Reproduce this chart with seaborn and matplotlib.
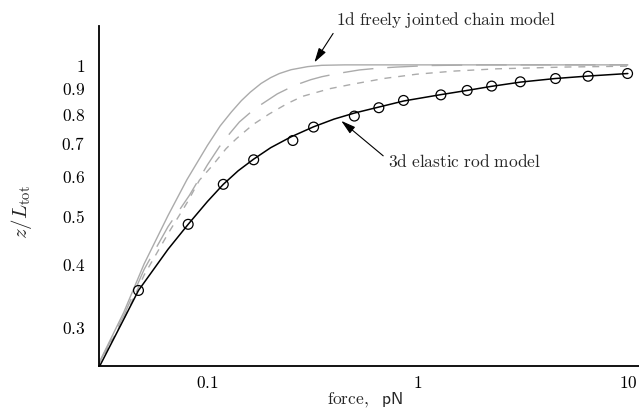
import matplotlib
matplotlib.use("Agg")
import matplotlib.pyplot as plt
import seaborn as sns
import numpy as np
import pandas as pd
from matplotlib.ticker import FixedLocator, FixedFormatter, NullLocator, NullFormatter

# ---- data ----
fjc_force = [0.03, 0.04, 0.05, 0.065, 0.08, 0.1, 0.115, 0.13, 0.145, 0.16, 0.18, 0.2, 0.22, 0.25, 0.3, 0.35, 0.45, 1.0, 3.0, 10.0]
fjc_ext   = [0.25, 0.32, 0.40, 0.50, 0.59, 0.69, 0.755, 0.805, 0.848, 0.882, 0.918, 0.943, 0.961, 0.978, 0.992, 0.998, 1.0, 1.0, 1.0, 1.0]

long_force = [0.03, 0.04, 0.05, 0.065, 0.082, 0.1, 0.114, 0.128, 0.142, 0.16, 0.18, 0.215, 0.245, 0.274, 0.31, 0.35, 0.416, 0.529, 0.65, 0.794, 1.14, 2.0, 5.0, 10.0]
long_ext   = [0.25, 0.315, 0.39, 0.475, 0.548, 0.631, 0.686, 0.73, 0.769, 0.803, 0.833, 0.875, 0.899, 0.917, 0.934, 0.947, 0.961, 0.977, 0.985, 0.990, 0.997, 1.0, 1.0, 1.0]

short_force = [0.03, 0.04, 0.05, 0.065, 0.08, 0.0916, 0.1056, 0.1227, 0.1374, 0.165, 0.197, 0.24, 0.283, 0.381, 0.49, 0.7, 0.99, 1.5, 2.38, 5.0, 10.0]
short_ext   = [0.25, 0.31, 0.38, 0.46, 0.53, 0.588, 0.629, 0.68, 0.712, 0.76, 0.798, 0.837, 0.865, 0.896, 0.915, 0.94, 0.958, 0.972, 0.982, 0.99, 0.994]

rod_force = [0.03, 0.04, 0.047, 0.065, 0.081, 0.1, 0.119, 0.14, 0.166, 0.2, 0.25, 0.32, 0.4, 0.5, 0.65, 0.86, 1.29, 1.72, 2.25, 3.1, 4.5, 6.5, 10.0]
rod_ext   = [0.245, 0.31, 0.354, 0.428, 0.48, 0.533, 0.577, 0.614, 0.648, 0.683, 0.718, 0.752, 0.779, 0.801, 0.823, 0.847, 0.872, 0.889, 0.906, 0.924, 0.939, 0.950, 0.961]

data_force = [0.047, 0.081, 0.119, 0.166, 0.255, 0.32, 0.50, 0.654, 0.857, 1.29, 1.72, 2.25, 3.08, 4.53, 6.47, 9.97]
data_ext   = [0.354, 0.480, 0.577, 0.646, 0.706, 0.751, 0.790, 0.821, 0.849, 0.871, 0.889, 0.907, 0.925, 0.939, 0.949, 0.961]

y_ticks = [0.3, 0.4, 0.5, 0.6, 0.7, 0.8, 0.9, 1.0]
y_tick_labels = ["0.3", "0.4", "0.5", "0.6", "0.7", "0.8", "0.9", "1"]
x_ticks = [0.1, 1.0, 10.0]
x_tick_labels = ["0.1", "1", "10"]

# ---- styling ----
sns.set_theme(style="white")
plt.rcParams["mathtext.fontset"] = "cm"
plt.rcParams["font.family"] = ["DejaVu Serif"]

fig = plt.figure(figsize=(6.39, 4.10), dpi=100)
ax = fig.add_axes([99 / 639, 43 / 410, 540 / 639, 340 / 410])
ax.set_xscale("log")
ax.set_yscale("log")

gray = "#ababab"
sns.lineplot(x=fjc_force, y=fjc_ext, ax=ax, color=gray, linewidth=1.0,
             estimator=None, sort=False)
sns.lineplot(x=long_force, y=long_ext, ax=ax, color=gray, linewidth=1.0,
             linestyle=(0, (22, 10)), estimator=None, sort=False)
sns.lineplot(x=short_force, y=short_ext, ax=ax, color=gray, linewidth=1.0,
             linestyle=(0, (5, 5)), estimator=None, sort=False)
sns.lineplot(x=rod_force, y=rod_ext, ax=ax, color="black", linewidth=1.1,
             estimator=None, sort=False)
sns.scatterplot(x=data_force, y=data_ext, ax=ax, marker="o", s=50,
                facecolor="none", edgecolor="black", linewidth=0.9, zorder=5)

ax.set_xlim(0.0305, 11.3)
ax.set_ylim(0.25, 1.196)

for s in ["top", "right"]:
    ax.spines[s].set_visible(False)
for s in ["left", "bottom"]:
    ax.spines[s].set_color("black")
    ax.spines[s].set_linewidth(1.3)

ax.xaxis.set_major_locator(FixedLocator(x_ticks))
ax.xaxis.set_major_formatter(FixedFormatter(["$%s$" % t for t in x_tick_labels]))
minor_x = [m * d for d in (0.01, 0.1, 1.0) for m in range(2, 10) if 0.0305 < m * d < 11.3]
ax.xaxis.set_minor_locator(FixedLocator(minor_x))
ax.xaxis.set_minor_formatter(NullFormatter())
ax.yaxis.set_major_locator(FixedLocator(y_ticks))
ax.yaxis.set_major_formatter(FixedFormatter(["$%s$" % t for t in y_tick_labels]))
ax.yaxis.set_minor_locator(NullLocator())

ax.tick_params(axis="both", which="major", direction="in", length=6, width=1.1,
               color="black", labelsize=12.5, labelcolor="black")
ax.tick_params(axis="x", which="major", pad=6)
ax.tick_params(axis="y", which="major", pad=10)
ax.tick_params(axis="x", which="minor", direction="in", length=4.5, width=1.0, color="black")

fig.text(365 / 639, 10 / 410, r"$\mathrm{force,}\ \ \mathsf{pN}$", ha="center", va="center",
         fontsize=12.5)
fig.text(22 / 639, 1 - 212 / 410, r"$z/L_{\rm tot}$", ha="center", va="center",
         rotation=90, fontsize=15)

arrow_kw = dict(arrowstyle="-|>,head_length=0.7,head_width=0.2", color="black",
                lw=0.8, shrinkA=1, shrinkB=1)
ax.annotate(r"$\mathrm{1d\ freely\ jointed\ chain\ model}$", xy=(0.32, 1.006), xycoords="data",
            xytext=(446, 390), textcoords="figure pixels", ha="center", va="center",
            fontsize=12.5, arrowprops=dict(relpos=(0.0, 0.0), **arrow_kw))
ax.annotate(r"$\mathrm{3d\ elastic\ rod\ model}$", xy=(0.428, 0.776), xycoords="data",
            xytext=(464, 247), textcoords="figure pixels", ha="center", va="center",
            fontsize=12.5, arrowprops=dict(relpos=(0.0, 0.65), **arrow_kw))

fig.savefig("out.png", dpi=100)
